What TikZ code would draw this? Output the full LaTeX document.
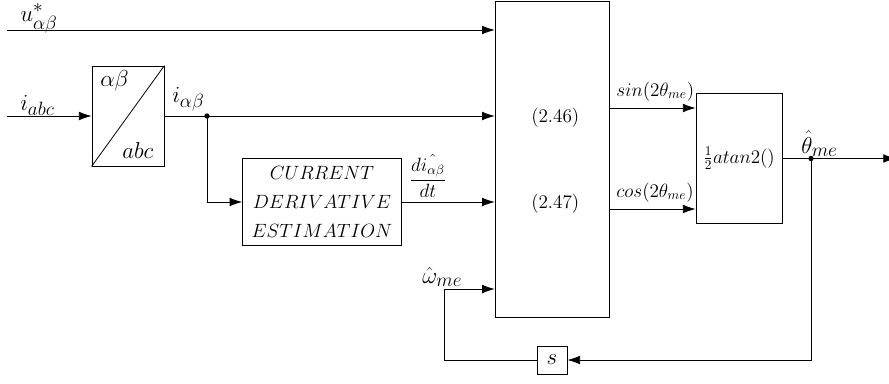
\documentclass[tikz,border=0pt]{standalone}
\usepackage{amsmath,amssymb}
\usetikzlibrary{arrows.meta, positioning, calc}

% larger sub/superscripts for the signal labels
\DeclareMathSizes{17.28}{17.28}{14.4}{10}

\begin{document}
\begin{tikzpicture}[
  x=0.75pt, y=-0.75pt,
  >={Latex[length=9.5pt, width=6.5pt]},
  blk/.style={draw, line width=0.6pt, inner sep=2pt, align=center},
  arr/.style={->, line width=0.6pt},
  ln/.style={line width=0.6pt},
  lbl/.style={font=\LARGE, inner sep=0pt, anchor=base west},
  sig/.style={font=\Large, inner sep=0pt, anchor=base west},
  dot/.style={circle, fill, inner sep=0pt, minimum size=4pt},
]

\useasboundingbox (0,0) rectangle (889,383);

% === Blocks ===
\node[blk, minimum width=119pt, minimum height=65pt, font=\Large] (cde) at (322,202)
  {$CURRENT$\\[4pt] $DERIVATIVE$\\[4pt] $ESTIMATION$};
\node[blk, minimum width=54pt, minimum height=75pt] (conv) at (128,116) {};
\node[blk, minimum width=86pt, minimum height=237pt] (obs) at (552.5,159) {};
\node[blk, minimum width=64.5pt, minimum height=97pt, font=\Large] (atan) at (739,158.5)
  {$\frac{1}{2}atan2()$};
\node[blk, minimum width=22.5pt, minimum height=21pt, font=\LARGE] (sblk) at (552,360) {$s$};

% Inside the observer block
\node[font=\Large, inner sep=0pt, anchor=base west] (eqA) at (531,122) {$(2.46)$};
\node[font=\Large, inner sep=0pt, anchor=base west] (eqB) at (531,208) {$(2.47)$};

% Transformation block: diagonal and frame labels
\draw[ln] (conv.south west) -- (conv.north east);
\node[lbl] (ab) at (100,86) {$\alpha\beta$};
\node[lbl] (abc) at (122,158) {$abc$};

% === Inputs ===
\coordinate (uin) at (7,30);
\coordinate (iin) at (7,116);
\node[lbl] (ulbl) at (20,21) {$u^{*}_{\alpha\beta}$};
\node[lbl] (ilbl) at (20,110) {$i_{abc}$};

\draw[arr] (uin) -- (uin -| obs.west);
\draw[arr] (iin) -- (conv.west);

% i_alpha_beta branch
\coordinate (tap) at (207,116);
\node[lbl] (iablbl) at (172,102) {$i_{\alpha\beta}$};
\draw[arr] (conv.east) -- (conv.east -| obs.west);
\node[dot] (tapdot) at (tap) {};
\draw[arr] (tap) |- (cde.west);

% derivative into observer
\draw[arr] (cde.east) -- (cde.east -| obs.west);
\node[font=\Large, inner sep=0pt] (dilbl) at (428,176) {$\dfrac{d\hat{i_{\alpha\beta}}}{dt}$};

% === Observer -> atan2 ===
\draw[arr] (obs.east |- 0,108) -- (atan.west |- 0,108);
\draw[arr] (obs.east |- 0,209) -- (atan.west |- 0,209);
\node[sig] (sinlbl) at (616,96) {$sin(2\theta_{me})$};
\node[sig] (coslbl) at (616,197) {$cos(2\theta_{me})$};

% === Output and feedback ===
\coordinate (thout) at (896,158.5);
\coordinate (thtap) at (811,158.5);
\draw[arr] (atan.east) -- (thout);
\node[dot] (thdot) at (thtap) {};
\node[lbl] (thlbl) at (801,153) {$\hat{\theta}_{me}$};

\coordinate (wme) at (444,289);
\draw[arr] (thtap) |- (sblk.east);
\draw[ln] (sblk.west) -| (wme);
\draw[arr] (wme) -- (wme -| obs.west);
\node[lbl] (wlbl) at (422,283) {$\hat{\omega}_{me}$};

\end{tikzpicture}
\end{document}
